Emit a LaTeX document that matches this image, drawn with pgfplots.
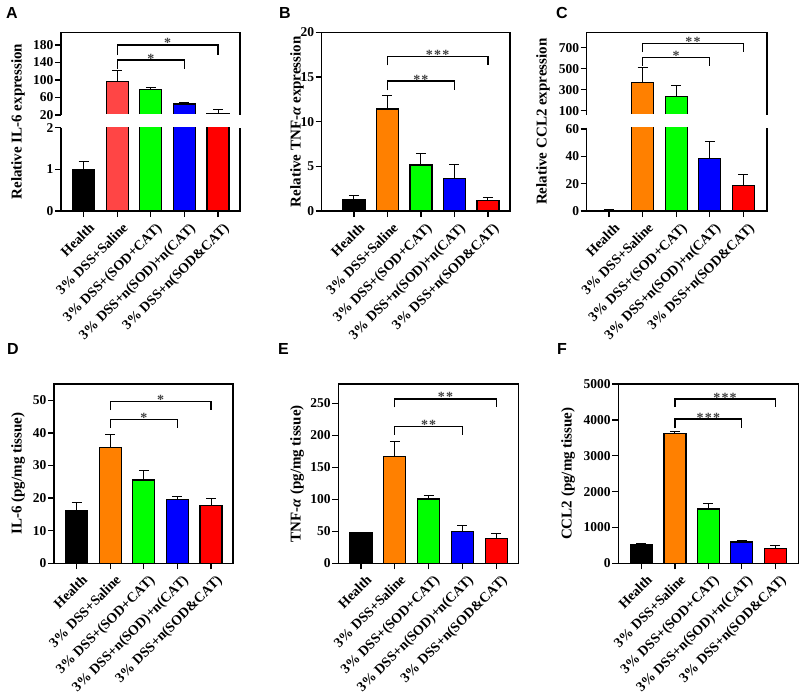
\documentclass[border=0pt]{standalone}
\usepackage{fontspec}
\setmainfont{Liberation Serif}
\newfontfamily\arialfont{Liberation Sans}
\usepackage{pgfplots}
\pgfplotsset{compat=1.18}
\definecolor{cOrange}{HTML}{FF8000}
\definecolor{cGreen}{HTML}{00FF00}
\definecolor{cBlue}{HTML}{0000FF}
\definecolor{cRed}{HTML}{FF0000}
\definecolor{cLRed}{HTML}{FF4545}
\pgfplotsset{
  panel/.style={
    scale only axis,
    width=180pt,
    xmin=-0.67, xmax=4.65,
    xtick={0,1,2,3,4},
    xticklabels={Health,3\% DSS+Saline,3\% DSS+(SOD+CAT),3\% DSS+n(SOD)+n(CAT),3\% DSS+n(SOD\&CAT)},
    axis line style={line width=1.4pt},
    tick style={line width=1.3pt, black},
    major tick length=6pt,
    tick align=outside,
    ytick pos=left, xtick pos=bottom,
    /pgf/number format/assume math mode=true,
    /pgf/number format/1000 sep={},
    yticklabel style={font=\fontsize{13.5}{13.5}\selectfont\bfseries, inner sep=1.5pt},
    xticklabel style={font=\fontsize{14}{14.5}\selectfont\bfseries, rotate=45, anchor=north east, inner sep=1.5pt, yshift=-5pt, xshift=1.5pt},
  },
  bar/.style={ybar, bar width=22pt, bar shift=0pt, draw=black, line width=1.3pt,
    error bars/y dir=plus, error bars/y explicit,
    error bars/error bar style={line width=1pt, black},
    error bars/error mark options={rotate=90, line width=1pt, mark size=5pt, black}},
}
\tikzset{
  brk/.style={line width=1.3pt, black},
  star/.style={anchor=base, font=\fontsize{14}{14}\selectfont\bfseries, text=black!75, yshift=-3pt, inner sep=0pt},
}
\newcommand{\st}{*\hspace{1.2pt}}
\newcommand{\ylab}[3]{\node[rotate=90, font=\fontsize{15}{15}\selectfont\bfseries] at (#1pt,#2pt) {#3};}
\newcommand{\plab}[3]{\node[font=\arialfont\fontsize{16}{16}\selectfont\bfseries] at (#1pt,#2pt) {#3};}
\begin{document}
\begin{tikzpicture}
\useasboundingbox (0pt,0pt) rectangle (800pt,-694pt);

% ---------- A (split) ----------
\begin{axis}[panel, name=Alow, at={(61pt,-211pt)}, anchor=south west, width=179pt, height=83.3pt,
  ymin=0, ymax=2, ytick={0,1,2}, axis line style={draw=none}]
\addplot[bar, fill=black] coordinates {(0,1.0) +- (0,0.18)};
\addplot[bar, fill=cLRed] coordinates {(1,97) +- (0,24)};
\addplot[bar, fill=cGreen] coordinates {(2,77.5) +- (0,5)};
\addplot[bar, fill=cBlue] coordinates {(3,45) +- (0,3.5)};
\addplot[bar, fill=cRed] coordinates {(4,24) +- (0,8)};
\end{axis}
\begin{axis}[panel, name=Aup, at={(61pt,-115pt)}, anchor=south west, width=179pt, height=82.7pt,
  ymin=20, ymax=209, ytick={20,60,100,140,180}, xtick=\empty, axis line style={draw=none}]
\addplot[bar, fill=black] coordinates {(0,1.0) +- (0,0.18)};
\addplot[bar, fill=cLRed] coordinates {(1,97) +- (0,24)};
\addplot[bar, fill=cGreen] coordinates {(2,77.5) +- (0,5)};
\addplot[bar, fill=cBlue] coordinates {(3,45) +- (0,3.5)};
\addplot[bar, fill=cRed] coordinates {(4,24) +- (0,8)};
\draw[brk] (axis cs:1,157) -- (axis cs:1,180) -- (axis cs:4,180) -- (axis cs:4,157);
\node[star] at (axis cs:2.5,180) {*};
\draw[brk] (axis cs:1,125) -- (axis cs:1,145.7) -- (axis cs:3,145.7) -- (axis cs:3,125);
\node[star] at (axis cs:2,145.7) {*};
\end{axis}
\fill[white] ([xshift=0.8pt,yshift=1.2pt]Alow.north west) rectangle ([xshift=-0.8pt,yshift=1.1pt]Aup.south east);
\draw[line width=1.4pt] (Alow.north west) -- (Alow.south west) -- (Alow.south east) -- (Alow.north east);
\draw[line width=1.4pt] (Aup.south west) -- (Aup.north west) -- (Aup.north east) -- (Aup.south east);

% ---------- B ----------
\begin{axis}[panel, at={(321.7pt,-211pt)}, anchor=south west, width=188.3pt, height=178.7pt,
  xmin=-0.96, xmax=4.66, ymin=0, ymax=20, ytick={0,5,10,15,20}]
\addplot[bar, fill=black] coordinates {(0,1.3) +- (0,0.45)};
\addplot[bar, fill=cOrange] coordinates {(1,11.4) +- (0,1.5)};
\addplot[bar, fill=cGreen] coordinates {(2,5.15) +- (0,1.25)};
\addplot[bar, fill=cBlue] coordinates {(3,3.6) +- (0,1.6)};
\addplot[bar, fill=cRed] coordinates {(4,1.2) +- (0,0.3)};
\draw[brk] (axis cs:1,16.3) -- (axis cs:1,17.3) -- (axis cs:4,17.3) -- (axis cs:4,16.3);
\node[star] at (axis cs:2.5,17.3) {\st\st*};
\draw[brk] (axis cs:1,13.5) -- (axis cs:1,14.55) -- (axis cs:3,14.55) -- (axis cs:3,13.5);
\node[star] at (axis cs:2,14.55) {\st*};
\end{axis}

% ---------- C (split) ----------
\begin{axis}[panel, name=Clow, at={(586.7pt,-211pt)}, anchor=south west, width=180.3pt, height=83.3pt,
  xmin=-0.66, xmax=4.7, ymin=0, ymax=61, ytick={0,20,40,60}, axis line style={draw=none}]
\addplot[bar, fill=black] coordinates {(0,0.5) +- (0,0.4)};
\addplot[bar, fill=cOrange] coordinates {(1,368) +- (0,143)};
\addplot[bar, fill=cGreen] coordinates {(2,236) +- (0,101)};
\addplot[bar, fill=cBlue] coordinates {(3,38.3) +- (0,12.7)};
\addplot[bar, fill=cRed] coordinates {(4,18.5) +- (0,8.1)};
\end{axis}
\begin{axis}[panel, name=Cup, at={(586.7pt,-115pt)}, anchor=south west, width=180.3pt, height=82.7pt,
  xmin=-0.66, xmax=4.7, ymin=60, ymax=845, ytick={100,300,500,700}, xtick=\empty, axis line style={draw=none}]
\addplot[bar, fill=black] coordinates {(0,0.5) +- (0,0.4)};
\addplot[bar, fill=cOrange] coordinates {(1,368) +- (0,143)};
\addplot[bar, fill=cGreen] coordinates {(2,236) +- (0,101)};
\addplot[bar, fill=cBlue] coordinates {(3,38.3) +- (0,12.7)};
\addplot[bar, fill=cRed] coordinates {(4,18.5) +- (0,8.1)};
\draw[brk] (axis cs:1,656) -- (axis cs:1,741) -- (axis cs:4,741) -- (axis cs:4,656);
\node[star] at (axis cs:2.5,741) {\st*};
\draw[brk] (axis cs:1,527) -- (axis cs:1,605) -- (axis cs:3,605) -- (axis cs:3,527);
\node[star] at (axis cs:2,605) {*};
\end{axis}
\fill[white] ([xshift=0.8pt,yshift=1.2pt]Clow.north west) rectangle ([xshift=-0.8pt,yshift=1.1pt]Cup.south east);
\draw[line width=1.4pt] (Clow.north west) -- (Clow.south west) -- (Clow.south east) -- (Clow.north east);
\draw[line width=1.4pt] (Cup.south west) -- (Cup.north west) -- (Cup.north east) -- (Cup.south east);

% ---------- D ----------
\begin{axis}[panel, at={(54pt,-563.3pt)}, anchor=south west, width=179pt, height=179.3pt,
  ymin=0, ymax=55, ytick={0,10,20,30,40,50}]
\addplot[bar, fill=black] coordinates {(0,16.3) +- (0,2.3)};
\addplot[bar, fill=cOrange] coordinates {(1,35.6) +- (0,3.8)};
\addplot[bar, fill=cGreen] coordinates {(2,25.6) +- (0,2.8)};
\addplot[bar, fill=cBlue] coordinates {(3,19.6) +- (0,0.8)};
\addplot[bar, fill=cRed] coordinates {(4,17.7) +- (0,2.3)};
\draw[brk] (axis cs:1,47) -- (axis cs:1,49.7) -- (axis cs:4,49.7) -- (axis cs:4,47);
\node[star] at (axis cs:2.5,49.7) {*};
\draw[brk] (axis cs:1,41.5) -- (axis cs:1,44.2) -- (axis cs:3,44.2) -- (axis cs:3,41.5);
\node[star] at (axis cs:2,44.2) {*};
\end{axis}

% ---------- E ----------
\begin{axis}[panel, at={(338.3pt,-563.3pt)}, anchor=south west, width=180pt, height=179.3pt,
  ymin=0, ymax=280, ytick={0,50,100,150,200,250}]
\addplot[bar, fill=black] coordinates {(0,48) +- (0,0.8)};
\addplot[bar, fill=cOrange] coordinates {(1,166.6) +- (0,24)};
\addplot[bar, fill=cGreen] coordinates {(2,100.5) +- (0,5.5)};
\addplot[bar, fill=cBlue] coordinates {(3,49.4) +- (0,10.4)};
\addplot[bar, fill=cRed] coordinates {(4,39) +- (0,6.8)};
\draw[brk] (axis cs:1,243.7) -- (axis cs:1,256.7) -- (axis cs:4,256.7) -- (axis cs:4,243.7);
\node[star] at (axis cs:2.5,256.7) {\st*};
\draw[brk] (axis cs:1,200.5) -- (axis cs:1,213.4) -- (axis cs:3,213.4) -- (axis cs:3,200.5);
\node[star] at (axis cs:2,213.4) {\st*};
\end{axis}

% ---------- F ----------
\begin{axis}[panel, at={(618.3pt,-563.3pt)}, anchor=south west, width=180pt, height=179.3pt,
  xmin=-0.69, xmax=4.69, ymin=0, ymax=5000, ytick={0,1000,2000,3000,4000,5000}]
\addplot[bar, fill=black] coordinates {(0,510) +- (0,40)};
\addplot[bar, fill=cOrange] coordinates {(1,3620) +- (0,56)};
\addplot[bar, fill=cGreen] coordinates {(2,1517) +- (0,160)};
\addplot[bar, fill=cBlue] coordinates {(3,595) +- (0,55)};
\addplot[bar, fill=cRed] coordinates {(4,419) +- (0,73)};
\draw[brk] (axis cs:1,4358) -- (axis cs:1,4581) -- (axis cs:4,4581) -- (axis cs:4,4358);
\node[star] at (axis cs:2.5,4581) {\st\st*};
\draw[brk] (axis cs:1,3760) -- (axis cs:1,4022) -- (axis cs:3,4022) -- (axis cs:3,3760);
\node[star] at (axis cs:2,4022) {\st\st*};
\end{axis}

% ---------- labels ----------
\ylab{18}{-121.7}{Relative IL-6 expression}
\ylab{297}{-121.7}{Relative TNF-\textit{α} expression}
\ylab{543}{-121.7}{Relative CCL2 expression}
\ylab{18}{-473.6}{IL-6 (pg/mg tissue)}
\ylab{297}{-473.6}{TNF-\textit{α} (pg/mg tissue)}
\ylab{568}{-473.6}{CCL2 (pg/mg tissue)}
\plab{12}{-13}{A}
\plab{285}{-13}{B}
\plab{562}{-13}{C}
\plab{13}{-349}{D}
\plab{283.5}{-349}{E}
\plab{562}{-349}{F}
\end{tikzpicture}
\end{document}
